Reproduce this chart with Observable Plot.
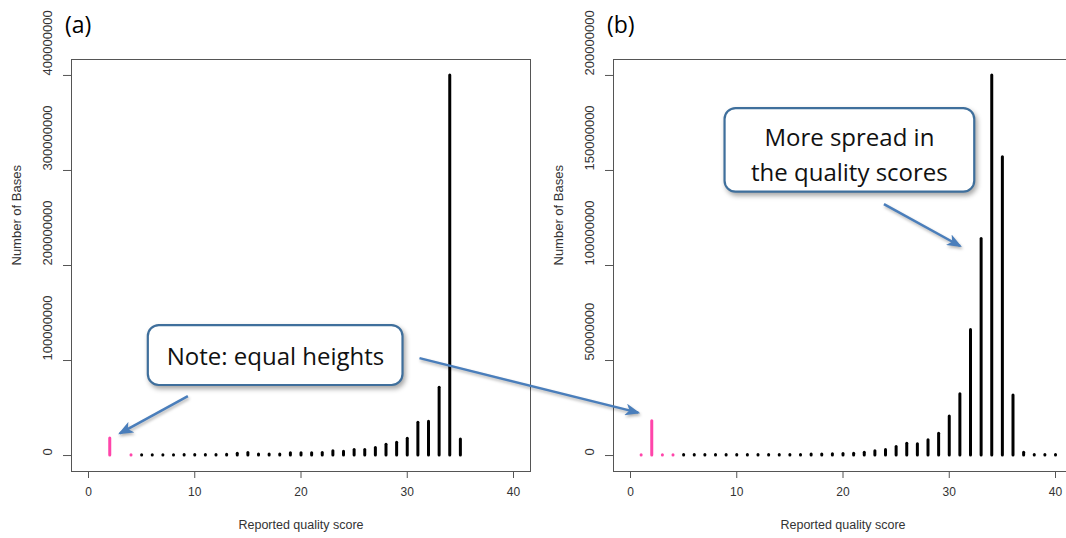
<!DOCTYPE html>
<html>
<head>
<meta charset="utf-8">
<script src="https://cdn.jsdelivr.net/npm/d3@7"></script>
<script src="https://cdn.jsdelivr.net/npm/@observablehq/plot@0.6"></script>
<style>
  html, body { margin: 0; padding: 0; background: #fff; }
  body { width: 1066px; height: 538px; overflow: hidden; position: relative; }
  .panel { position: absolute; top: 0; width: 540px; height: 538px; }
  .panel svg { overflow: visible; }
  #overlay { position: absolute; left: 0; top: 0; pointer-events: none; }
</style>
</head>
<body>
<div id="panelA" class="panel" style="left:0"></div>
<div id="panelB" class="panel" style="left:540px"></div>
<svg id="overlay" width="1066" height="538"></svg>
<script>
// ---------------- data ----------------
const scoresA = [2, 4, 5, 6, 7, 8, 9, 10, 11, 12, 13, 14, 15, 16, 17, 18, 19, 20,
  21, 22, 23, 24, 25, 26, 27, 28, 29, 30, 31, 32, 33, 34, 35];
const basesA = [18e6, 0.3e6, 0.4e6, 0.4e6, 0.4e6, 0.4e6, 0.5e6, 0.6e6, 0.6e6, 0.6e6, 0.8e6,
  1.9e6, 2.6e6, 1.2e6, 1.2e6, 1.2e6, 2.3e6, 2.3e6, 2.3e6, 2.6e6, 4.4e6, 4.0e6, 5.8e6, 5.8e6,
  7.9e6, 11.4e6, 13.5e6, 17.7e6, 34.6e6, 35.6e6, 71.4e6, 400e6, 17.0e6];

const scoresB = [1, 2, 3, 4, 5, 6, 7, 8, 9, 10, 11, 12, 13, 14, 15, 16, 17, 18, 19, 20,
  21, 22, 23, 24, 25, 26, 27, 28, 29, 30, 31, 32, 33, 34, 35, 36, 37, 38, 39, 40];
const basesB = [0.2e6, 18e6, 0.2e6, 0.2e6, 0.3e6, 0.3e6, 0.3e6, 0.3e6, 0.3e6, 0.3e6, 0.3e6,
  0.3e6, 0.3e6, 0.3e6, 0.3e6, 0.3e6, 0.5e6, 0.6e6, 0.7e6, 0.8e6, 1.0e6, 1.5e6, 2.2e6, 2.9e6,
  4.5e6, 6.2e6, 5.9e6, 8.0e6, 11.5e6, 20.6e6, 32.2e6, 66e6, 114e6, 200e6, 157e6, 31.6e6,
  1.5e6, 0.3e6, 0.3e6, 0.3e6];

const lowQualityMax = 4;            // scores <= this are drawn pink
const xTicks = [0, 10, 20, 30, 40];
const yTicksA = [0, 100000000, 200000000, 300000000, 400000000];
const yTicksB = [0, 50000000, 100000000, 150000000, 200000000];
const panelLabels = ["(a)", "(b)"];
const xTitle = "Reported quality score";
const yTitle = "Number of Bases";
const noteText = "Note: equal heights";
const spreadText = "More spread in\nthe quality scores";

// ---------------- styles ----------------
const PINK = "#ff45aa";
const BLUE_LINE = "#4a7ebb";
const BOX_STROKE = "#3f6f9c";
const rFont = "'Liberation Sans', Arial, sans-serif";
const calloutFont = "'Open Sans', Lato, sans-serif";

function panel(scores, bases, yTicks, yDomain, marginLeft, marginRight, extra) {
  const rows = scores.map((q, i) => ({q, v: bases[i]}));
  return Plot.plot({
    width: 540,
    height: 538,
    marginLeft, marginRight,
    marginTop: 59,
    marginBottom: 67,
    style: {fontFamily: rFont, color: "#333", background: "transparent"},
    x: {domain: [-1.6, 41.6]},
    y: {domain: yDomain},
    marks: [
      Plot.frame({stroke: "#555", strokeWidth: 1}),
      Plot.axisX(xTicks, {tickSize: 7, tickPadding: 9, fontSize: 12, label: null, stroke: "#555"}),
      Plot.axisY(yTicks, {tickSize: 8, tickFormat: () => "", label: null, stroke: "#555"}),
      Plot.text(yTicks, {y: d => d, text: d => String(d), frameAnchor: "left", dx: -24,
        rotate: -90, fontSize: 13, fill: "#333"}),
      Plot.text([xTitle], {frameAnchor: "bottom", dy: 57, fontSize: 12.5, fill: "#333"}),
      Plot.text([yTitle], {frameAnchor: "left", dx: -55, rotate: -90, fontSize: 13, fill: "#333"}),
      Plot.ruleX(rows, {x: "q", y1: 0, y2: "v",
        stroke: d => d.q <= lowQualityMax ? PINK : "#000",
        strokeWidth: 3, strokeLinecap: "round"}),
      ...extra
    ]
  });
}

function callout(box, textPos, text) {
  return [
    Plot.rect([box], {x1: "x1", x2: "x2", y1: "y1", y2: "y2", rx: 11,
      fill: "#fff", stroke: BOX_STROKE, strokeWidth: 2.2}),
    Plot.text([text], {x: textPos.x, y: textPos.y, text: d => d, fontSize: 24,
      lineHeight: 1.45, fontFamily: calloutFont, fill: "#111"})
  ];
}

// Annotation anchors in each panel's data coordinates
const noteBox = {x1: 5.63, x2: 29.6, y1: 0.737e8, y2: 1.368e8};
const notePos = {x: 17.6, y: 1.075e8};
const spreadBox = {x1: 8.9, x2: 32.4, y1: 138.6e6, y2: 182.6e6};
const spreadPos = {x: 20.6, y: 159.6e6};

const plotA = panel(scoresA, basesA, yTicksA, [-1.68e7, 4.168e8], 71, 10,
  callout(noteBox, notePos, noteText));
const plotB = panel(scoresB, basesB, yTicksB, [-0.84e7, 2.084e8], 73, 8,
  callout(spreadBox, spreadPos, spreadText));

document.getElementById("panelA").appendChild(plotA);
document.getElementById("panelB").appendChild(plotB);

// shadows on callout boxes
for (const p of [plotA, plotB]) {
  d3.select(p).selectAll("g[aria-label=rect] rect")
    .style("filter", "drop-shadow(2px 3px 2.5px rgba(0,0,0,0.35))");
}

// ---------------- overlay: arrows and panel labels ----------------
const offsets = {A: 0, B: 540};
const plots = {A: plotA, B: plotB};
function toPage(panelId, x, y) {
  const p = plots[panelId];
  return [p.scale("x").apply(x) + offsets[panelId], p.scale("y").apply(y)];
}
const arrows = [
  {from: ["A", 9.4, 6.2e7], to: ["A", 3.0, 2.28e7]},
  {from: ["A", 31.2, 1.02e8], to: ["B", 0.78, 2.23e7]},
  {from: ["B", 23.9, 1.32e8], to: ["B", 31.07, 1.10e8]}
];

const svg = d3.select("#overlay");
const defs = svg.append("defs");
defs.append("marker")
  .attr("id", "head")
  .attr("markerUnits", "userSpaceOnUse")
  .attr("viewBox", "0 0 15 12")
  .attr("markerWidth", 15).attr("markerHeight", 12)
  .attr("refX", 13).attr("refY", 6)
  .attr("orient", "auto")
  .append("path")
  .attr("d", "M0,0 L15,6 L0,12 L4,6 Z")
  .attr("fill", BLUE_LINE);

svg.append("g")
  .style("filter", "drop-shadow(1px 2px 1.5px rgba(0,0,0,0.3))")
  .selectAll("line")
  .data(arrows)
  .join("line")
  .attr("x1", d => toPage(...d.from)[0])
  .attr("y1", d => toPage(...d.from)[1])
  .attr("x2", d => toPage(...d.to)[0])
  .attr("y2", d => toPage(...d.to)[1])
  .attr("stroke", BLUE_LINE)
  .attr("stroke-width", 2.5)
  .attr("marker-end", "url(#head)");

// panel labels positioned relative to each panel's frame
const labelAnchors = [["A", -1.6], ["B", -1.6]];
svg.selectAll("text.plabel")
  .data(panelLabels)
  .join("text")
  .attr("class", "plabel")
  .attr("x", (d, i) => toPage(labelAnchors[i][0], labelAnchors[i][1], 0)[0] - 6)
  .attr("y", 33)
  .attr("font-family", calloutFont)
  .attr("font-size", 23)
  .attr("fill", "#000")
  .text(d => d);
</script>
</body>
</html>
